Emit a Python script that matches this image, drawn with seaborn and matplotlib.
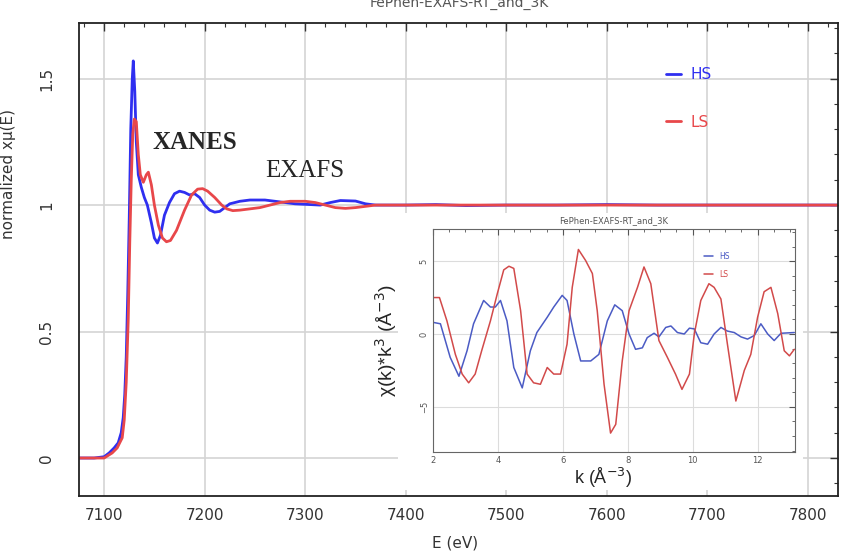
import matplotlib
matplotlib.use("Agg")
import matplotlib.pyplot as plt
import seaborn as sns
from matplotlib.patches import Rectangle
from matplotlib.ticker import MultipleLocator

# XANES main plot data
e_hs = [7075, 7090, 7100, 7105, 7110, 7114, 7117, 7119, 7120.5, 7122, 7123.5, 7125, 7126.5,
        7128, 7129, 7130.5, 7132, 7134, 7137, 7140, 7143, 7147, 7150, 7153, 7156, 7160,
        7165, 7170, 7175, 7180, 7185, 7190, 7195, 7200, 7205, 7210, 7215, 7220, 7225,
        7235, 7245, 7260, 7270, 7280, 7290, 7300, 7315, 7325, 7335, 7350, 7360, 7370,
        7400, 7430, 7460, 7500, 7550, 7600, 7650, 7700, 7750, 7800, 7830]
mu_hs = [0.0, 0.0, 0.005, 0.02, 0.04, 0.06, 0.1, 0.16, 0.25, 0.4, 0.65, 0.95, 1.3,
         1.5, 1.57, 1.45, 1.25, 1.12, 1.07, 1.03, 1.0, 0.93, 0.87, 0.85, 0.88, 0.96,
         1.01, 1.045, 1.055, 1.05, 1.04, 1.045, 1.03, 1.0, 0.98, 0.972, 0.975, 0.99, 1.005,
         1.015, 1.02, 1.02, 1.015, 1.01, 1.005, 1.003, 1.0, 1.01, 1.018, 1.016, 1.005, 1.0,
         1.0, 1.002, 0.998, 1.0, 1.0, 1.002, 1.0, 1.0, 1.0, 1.0, 1.0]

e_ls = [7075, 7090, 7100, 7108, 7113, 7118, 7120, 7122, 7124, 7125.5, 7127, 7128.5,
        7130, 7132, 7134, 7136, 7139, 7142, 7144, 7147, 7150, 7154, 7158, 7162, 7166,
        7172, 7180, 7187, 7193, 7198, 7203, 7210, 7217, 7222, 7228, 7235, 7245, 7255,
        7265, 7275, 7285, 7300, 7310, 7320, 7330, 7340, 7350, 7360, 7370, 7400, 7450,
        7500, 7550, 7600, 7650, 7700, 7750, 7800, 7830]
mu_ls = [0.0, 0.0, 0.0, 0.02, 0.04, 0.08, 0.15, 0.3, 0.55, 0.85, 1.1, 1.28,
         1.34, 1.33, 1.2, 1.12, 1.09, 1.12, 1.13, 1.08, 1.0, 0.92, 0.87, 0.855, 0.86,
         0.9, 0.98, 1.04, 1.063, 1.065, 1.055, 1.03, 1.0, 0.985, 0.978, 0.98, 0.985, 0.99,
         1.0, 1.01, 1.015, 1.015, 1.01, 1.0, 0.99, 0.987, 0.99, 0.995, 1.0, 1.0, 1.0,
         1.0, 1.0, 1.0, 1.0, 1.0, 1.0, 1.0, 1.0]

# EXAFS inset data
k_hs = [2.0, 2.23, 2.53, 2.8, 3.05, 3.25, 3.56, 3.77, 3.92, 4.08, 4.28, 4.49, 4.75,
        5.0, 5.2, 5.52, 5.72, 5.98, 6.13, 6.34, 6.55, 6.86, 7.11, 7.37, 7.6, 7.83,
        8.04, 8.24, 8.45, 8.6, 8.81, 8.96, 9.17, 9.33, 9.53, 9.74, 9.9, 10.05, 10.25,
        10.46, 10.66, 10.87, 11.07, 11.28, 11.49, 11.69, 11.9, 12.1, 12.31, 12.51,
        12.72, 13.13]
chi_hs = [0.8, 0.7, -1.6, -2.9, -1.15, 0.7, 2.3, 1.85, 1.85, 2.3, 0.9, -2.3, -3.7,
          -1.15, 0.1, 1.15, 1.85, 2.65, 2.3, 0.0, -1.85, -1.85, -1.4, 0.9, 2.0, 1.6,
          0.0, -1.05, -0.95, -0.25, 0.05, -0.2, 0.45, 0.55, 0.1, 0.0, 0.4, 0.35, -0.6,
          -0.7, 0.0, 0.45, 0.2, 0.1, -0.2, -0.35, -0.1, 0.7, 0.0, -0.45, 0.05, 0.1]

k_ls = [2.0, 2.2, 2.43, 2.69, 2.9, 3.1, 3.3, 3.5, 3.77, 3.98, 4.18, 4.34, 4.49, 4.7,
        4.9, 5.1, 5.31, 5.52, 5.72, 5.93, 6.13, 6.29, 6.48, 6.7, 6.91, 7.06, 7.27,
        7.47, 7.63, 7.83, 8.04, 8.3, 8.5, 8.71, 8.96, 9.22, 9.47, 9.67, 9.9, 10.05,
        10.25, 10.5, 10.66, 10.87, 11.07, 11.33, 11.59, 11.79, 12.0, 12.2, 12.41, 12.62,
        12.82, 12.98, 13.13]
chi_ls = [2.5, 2.5, 0.9, -1.4, -2.75, -3.35, -2.75, -1.15, 0.9, 2.75, 4.4, 4.65, 4.5, 1.6,
          -2.75, -3.35, -3.45, -2.3, -2.75, -2.75, -0.7, 3.2, 5.8, 5.05, 4.15, 1.6, -3.45,
          -6.8, -6.2, -1.85, 1.6, 3.2, 4.6, 3.45, -0.45, -1.6, -2.75, -3.8, -2.75, 0.0,
          2.3, 3.45, 3.2, 2.4, -0.7, -4.6, -2.5, -1.4, 1.15, 2.9, 3.2, 1.4,
          -1.15, -1.5, -1.05]

sns.set_theme(style="whitegrid")
plt.rcParams['font.family'] = ['DejaVu Sans']

fig = plt.figure(figsize=(8.43, 5.56), dpi=100)
ax = fig.add_axes([0.0937, 0.108, 0.9004, 0.8507])

sns.lineplot(x=e_hs, y=mu_hs, ax=ax, color='#2f2ff0', lw=2.0, label='HS', sort=False)
sns.lineplot(x=e_ls, y=mu_ls, ax=ax, color='#e8474a', lw=2.0, label='LS', sort=False)

ax.set_xlim(7075, 7830)
ax.set_ylim(-0.15, 1.72)
ax.xaxis.set_major_locator(MultipleLocator(100))
ax.xaxis.set_minor_locator(MultipleLocator(20))
ax.yaxis.set_minor_locator(MultipleLocator(0.1))
ax.set_yticks([0, 0.5, 1, 1.5])
ax.set_yticklabels(['0', '0.5', '1', '1.5'], rotation=90, va='center')
ax.tick_params(which='major', direction='in', top=True, right=True, length=6, width=1,
               colors='#333333', labelsize=11, pad=9)
ax.tick_params(which='minor', direction='in', top=True, right=True, length=3, width=0.8,
               color='#333333')
ax.tick_params(axis='y', pad=18)
ax.grid(True, which='major', color='#d4d4d4', lw=1.2)
ax.grid(False, which='minor')
for s in ax.spines.values():
    s.set_color('#222222')
    s.set_linewidth(1.3)

ax.set_xlabel('E (eV)', fontsize=11, color='#333333')
ax.xaxis.set_label_coords(0.495, -0.083)
ax.set_ylabel('normalized x\u03bc(E)', fontsize=11, color='#333333')
ax.yaxis.set_label_coords(-0.083, 0.68)

ax.legend(loc='upper left', bbox_to_anchor=(0.755, 0.935), frameon=False, fontsize=11,
          handlelength=1.0, handletextpad=0.6, labelspacing=2.1, labelcolor='linecolor')

ax.text(7148, 1.246, 'XANES', fontsize=18, fontweight='bold', family='Liberation Serif',
        va='center', ha='left')
ax.text(7260, 1.135, 'EXAFS', fontsize=18, family='Liberation Serif', va='center', ha='left')

fig.text(0.545, 0.995, 'FePhen-EXAFS-RT_and_3K', fontsize=10, color='#555555',
         ha='center', va='center')

# white box behind the inset
fig.add_artist(Rectangle((0.472, 0.1187), 0.4806, 0.498, transform=fig.transFigure,
                         facecolor='white', edgecolor='none', zorder=1))

ax_in = fig.add_axes([0.5136, 0.187, 0.4294, 0.401], zorder=2)
sns.lineplot(x=k_hs, y=chi_hs, ax=ax_in, color='#4b5bc4', lw=1.1, label='HS', sort=False)
sns.lineplot(x=k_ls, y=chi_ls, ax=ax_in, color='#d24a4a', lw=1.1, label='LS', sort=False)
ax_in.set_xlim(2, 13.15)
ax_in.set_ylim(-8.1, 7.2)
ax_in.xaxis.set_major_locator(MultipleLocator(2))
ax_in.xaxis.set_minor_locator(MultipleLocator(0.5))
ax_in.yaxis.set_major_locator(MultipleLocator(5))
ax_in.yaxis.set_minor_locator(MultipleLocator(1))
ax_in.tick_params(which='major', direction='in', top=True, right=True, length=4, width=0.8,
                  colors='#555555', labelsize=6, pad=3)
ax_in.tick_params(which='minor', direction='in', top=True, right=True, length=2, width=0.6,
                  color='#555555')
for lbl in ax_in.get_yticklabels():
    lbl.set_rotation(90)
    lbl.set_va('center')
ax_in.grid(True, which='major', color='#dcdcdc', lw=0.8)
ax_in.grid(False, which='minor')
for s in ax_in.spines.values():
    s.set_color('#666666')
    s.set_linewidth(0.8)
ax_in.set_title('FePhen-EXAFS-RT_and_3K', fontsize=6, color='#555555', pad=4)
ax_in.set_xlabel('k (\u00c5$^{-3}$)', fontsize=13, family='Liberation Sans')
ax_in.xaxis.set_label_coords(0.47, -0.06)
ax_in.set_ylabel('\u03c7(k)*k$^{3}$ (\u00c5$^{-3}$)', fontsize=14, family='Liberation Sans')
ax_in.yaxis.set_label_coords(-0.095, 0.5)
ax_in.legend(loc='upper left', bbox_to_anchor=(0.73, 0.93), frameon=False, fontsize=5.5,
             handlelength=1.2, handletextpad=0.8, labelspacing=1.2, labelcolor='linecolor')

fig.savefig('out.png', dpi=100)
